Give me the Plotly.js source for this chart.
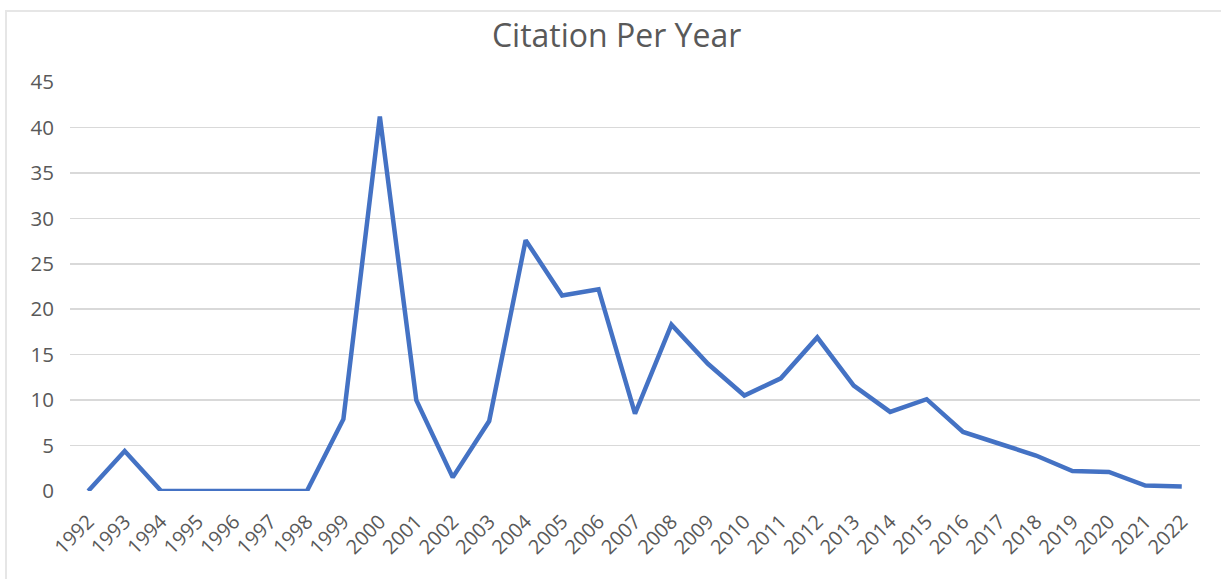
<!DOCTYPE html>
<html>
<head>
<meta charset="utf-8">
<script src="https://cdn.plot.ly/plotly-3.0.1.min.js"></script>
<style>
  html, body { margin: 0; padding: 0; background: #fff; overflow: hidden; }
  #frame { position: absolute; left: 5px; top: 10px; width: 1400px; height: 700px; border: 2px solid #e6e6e6; box-sizing: border-box; pointer-events: none; z-index: 2; }
  #chart { position: absolute; left: 0; top: 0; width: 1221px; height: 579px; }
</style>
</head>
<body>
<div id="chart"></div>
<div id="frame"></div>
<script>
const years = ["1992","1993","1994","1995","1996","1997","1998","1999","2000","2001",
               "2002","2003","2004","2005","2006","2007","2008","2009","2010","2011",
               "2012","2013","2014","2015","2016","2017","2018","2019","2020","2021","2022"];
const citations = [0, 4.4, 0, 0, 0, 0, 0, 7.9, 41.2, 10.0,
                   1.5, 7.7, 27.6, 21.5, 22.2, 8.5, 18.3, 14.0, 10.5, 12.4,
                   16.9, 11.6, 8.7, 10.1, 6.5, 5.2, 3.9, 2.2, 2.1, 0.6, 0.5];
const yTicks = [0, 5, 10, 15, 20, 25, 30, 35, 40, 45];
const chartTitle = "Citation Per Year";

const textColor = "#595959";
const font = "'Open Sans', 'Noto Sans', sans-serif";

Plotly.newPlot("chart", [{
  x: years,
  y: citations,
  type: "scatter",
  mode: "lines",
  line: { color: "#4472C4", width: 4.5 },
  hoverinfo: "x+y"
}], {
  width: 1221,
  height: 579,
  margin: { l: 70, r: 21, t: 82, b: 87.5, pad: 0 },
  paper_bgcolor: "#ffffff",
  plot_bgcolor: "#ffffff",
  showlegend: false,
  title: {
    text: chartTitle,
    x: 0.505, xanchor: "center",
    y: 0.938, yanchor: "middle", yref: "container",
    font: { family: font, size: 32, color: textColor }
  },
  xaxis: {
    type: "category",
    range: [-0.5, 30.5],
    tickangle: -45,
    showgrid: false,
    zeroline: false,
    showline: false,
    ticks: "",
    ticklabelstandoff: 14,
    tickfont: { family: font, size: 20, color: textColor },
    fixedrange: true
  },
  yaxis: {
    range: [0, 45],
    tickvals: yTicks,
    ticktext: yTicks.map(String),
    showgrid: true,
    gridcolor: "#d9d9d9",
    gridwidth: 1.5,
    zeroline: false,
    showline: false,
    ticks: "",
    ticklabelstandoff: 15,
    tickfont: { family: font, size: 20.5, color: textColor },
    fixedrange: true
  }
}, { displayModeBar: false, staticPlot: true });
</script>
</body>
</html>
